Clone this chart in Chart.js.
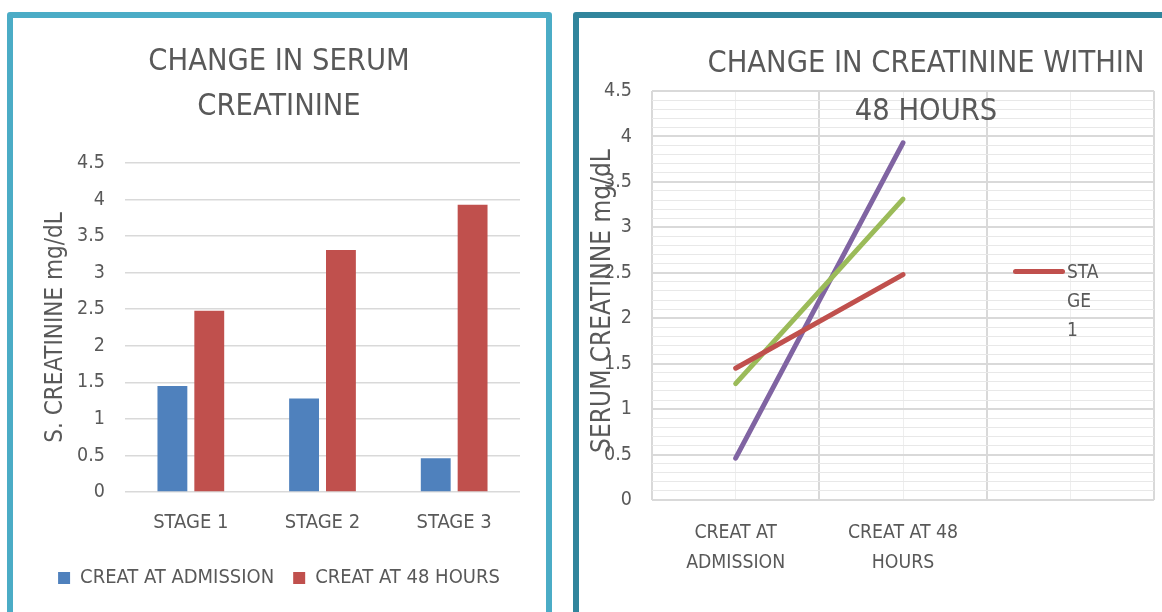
<!DOCTYPE html>
<html>
<head>
<meta charset="utf-8">
<script src="https://cdn.jsdelivr.net/npm/chart.js@4.4.1/dist/chart.umd.min.js"></script>
<style>
  html, body { margin: 0; padding: 0; background: #fff; overflow: hidden; width: 1162px; height: 612px; }
  body { position: relative; font-family: "DejaVu Sans Condensed", sans-serif; color: #595959; }
  canvas { position: absolute; top: 0; }
  #barCanvas { left: 0; }
  #lineCanvas { left: 560px; }
  .panel { position: absolute; top: 12px; height: 700px; box-sizing: border-box; border: 6px solid; border-radius: 3px; }
  #panelLeft { left: 7px; width: 545px; border-color: #4BACC6; }
  #panelRight { left: 573px; width: 700px; border-color: #31859C; }
  #lineTitle { position: absolute; left: 626px; width: 600px; top: 38px; text-align: center; font-size: 30.5px; line-height: 48px; }
  #lineYTitle { position: absolute; left: 601px; top: 301px; font-size: 26px; white-space: nowrap; transform: translate(-50%, -50%) rotate(-90deg); }
  #lineLegend { position: absolute; left: 1013px; top: 257px; }
  #lineLegend .swatch { position: absolute; left: 0; top: 12px; width: 52px; height: 5px; border-radius: 3px; background: #C0504D; }
  #lineLegend .text { position: absolute; left: 54px; top: 0; font-size: 19px; line-height: 29px; }
</style>
</head>
<body>
<canvas id="barCanvas" width="556" height="620"></canvas>
<canvas id="lineCanvas" width="720" height="620"></canvas>
<div class="panel" id="panelLeft"></div>
<div class="panel" id="panelRight"></div>
<div id="lineTitle">CHANGE IN CREATININE WITHIN<br>48 HOURS</div>
<div id="lineYTitle">SERUM CREATINNE mg/dL</div>
<div id="lineLegend"><div class="swatch"></div><div class="text">STA<br>GE<br>1</div></div>

<script>
// values
const stages = ['STAGE 1', 'STAGE 2', 'STAGE 3'];
const creatAdmission = [1.45, 1.28, 0.46];
const creat48h = [2.48, 3.31, 3.93];
const barSeries = ['CREAT AT ADMISSION', 'CREAT AT 48 HOURS'];
const timeLabels = [['CREAT AT', 'ADMISSION'], ['CREAT AT 48', 'HOURS'], ''];

const barColors = ['#4F81BD', '#C0504D'];
const lineColors = ['#C0504D', '#9BBB59', '#8064A2'];

Chart.defaults.font.family = '"DejaVu Sans Condensed", sans-serif';
Chart.defaults.color = '#595959';

const isMajor = v => Math.abs(v * 2 - Math.round(v * 2)) < 1e-6;

// Bar chart (left)
new Chart(document.getElementById('barCanvas'), {
    type: 'bar',
    data: {
        labels: stages,
        datasets: [
            { label: barSeries[0], data: creatAdmission, backgroundColor: barColors[0] },
            { label: barSeries[1], data: creat48h, backgroundColor: barColors[1] }
        ]
    },
    options: {
        responsive: false,
        animation: false,
        categoryPercentage: 0.56,
        barPercentage: 0.81,
        layout: { padding: { left: 38, right: 36, top: 0, bottom: 22 } },
        plugins: {
            title: {
                display: true,
                text: ['CHANGE IN SERUM', 'CREATININE'],
                font: { size: 30.5, weight: 'normal', lineHeight: 1.475 },
                padding: { top: 39.5, bottom: 33.5 }
            },
            legend: {
                position: 'bottom',
                labels: { boxWidth: 12, boxHeight: 12, font: { size: 20 }, padding: 19 }
            },
            tooltip: { enabled: false }
        },
        scales: {
            x: {
                grid: { display: false },
                border: { display: false },
                ticks: { font: { size: 20 }, padding: 11 },
                afterFit: s => { s.height = 57; }
            },
            y: {
                min: 0,
                max: 4.5,
                ticks: { stepSize: 0.5, font: { size: 19.5 }, padding: 20, callback: v => String(v) },
                grid: { color: '#D9D9D9', lineWidth: 1.5, drawTicks: false },
                border: { display: false },
                title: { display: true, text: 'S. CREATININE mg/dL', font: { size: 24 }, padding: { top: 3, bottom: 0 } },
                afterFit: s => { s.width = 87; }
            }
        }
    }
});

// Line chart (right)
new Chart(document.getElementById('lineCanvas'), {
    type: 'line',
    data: {
        labels: timeLabels,
        datasets: stages.map((s, i) => ({
            label: s,
            data: [creatAdmission[i], creat48h[i]],
            borderColor: lineColors[i],
            borderWidth: 5,
            borderCapStyle: 'round',
            pointRadius: 0,
            tension: 0
        }))
    },
    options: {
        responsive: false,
        animation: false,
        layout: { padding: { left: 40, right: 126, top: 91, bottom: 0 } },
        plugins: {
            legend: { display: false },
            title: { display: false },
            tooltip: { enabled: false }
        },
        scales: {
            x: {
                offset: true,
                grid: { offset: true, color: '#D9D9D9', lineWidth: 2, drawTicks: false },
                border: { display: false },
                ticks: { font: { size: 19.3, lineHeight: 1.55 }, padding: 18, maxRotation: 0, autoSkip: false },
                afterFit: s => { s.height = 120; }
            },
            x2: {
                type: 'category',
                labels: timeLabels,
                position: 'top',
                offset: true,
                grid: { offset: false, color: '#EEEEEE', lineWidth: 1, drawTicks: false },
                border: { display: false },
                ticks: { display: false },
                afterFit: s => { s.height = 0; }
            },
            y: {
                min: 0,
                max: 4.5,
                ticks: {
                    stepSize: 0.1,
                    autoSkip: false,
                    font: { size: 19.5 },
                    padding: 20,
                    callback: v => isMajor(v) ? String(v) : ''
                },
                grid: {
                    drawTicks: false,
                    color: c => isMajor(c.tick.value) ? '#D9D9D9' : '#E8E8E8',
                    lineWidth: c => isMajor(c.tick.value) ? 2 : 1
                },
                border: { display: false },
                afterFit: s => { s.width = 52; }
            }
        }
    }
});
</script>
</body>
</html>
